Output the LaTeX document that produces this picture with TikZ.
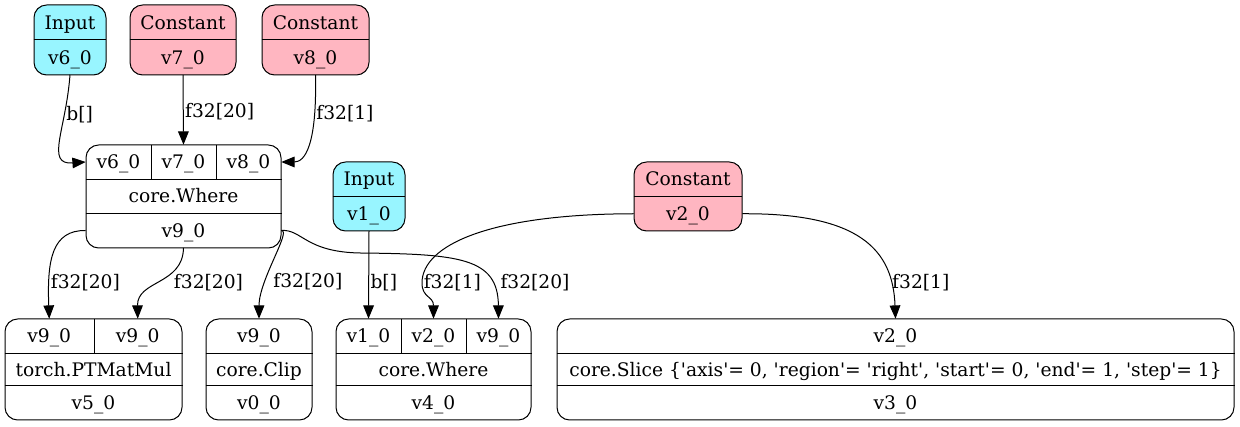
\documentclass[tikz,border=0pt]{standalone}
\usepackage{fontspec}
\setmainfont{DejaVu Serif}
\usetikzlibrary{arrows.meta,positioning}

\tikzset{
  rec/.style={draw, rounded corners=9.5pt, line width=0.75pt, inner sep=0pt},
  inbox/.style={rec, fill={rgb,255:red,152;green,245;blue,255}},
  cstbox/.style={rec, fill={rgb,255:red,255;green,182;blue,193}},
  opbox/.style={rec, fill=white},
  cell/.style={inner sep=0pt, minimum height=25.5pt, text height=10pt, text depth=0pt},
  edge/.style={-{Triangle[length=10pt,width=8pt]}, line width=0.75pt},
  lbl/.style={inner sep=1pt, anchor=west}
}
\newcommand{\sq}{\textquotesingle}

\begin{document}
\begin{tikzpicture}[x=0.75pt,y=0.75pt,yscale=-1,xscale=1,font=\fontsize{14}{17}\selectfont]
    \useasboundingbox (0,0) rectangle (1240,427);

    %Shape: Input v6_0
    \node[inbox, minimum width=54pt, minimum height=52.5pt] (in6) at (70,40) {};
    \node[cell, minimum width=54pt] (in6t) at (70,22.5) {Input};
    \node[cell, minimum width=54pt] (in6v) at (70,57.5) {v6\_0};
    \draw (in6t.south west) -- (in6t.south east);

    %Shape: Constant v7_0
    \node[cstbox, minimum width=79.5pt, minimum height=52.5pt] (c7) at (183,40) {};
    \node[cell, minimum width=79.5pt] (c7t) at (183,22.5) {Constant};
    \node[cell, minimum width=79.5pt] (c7v) at (183,57.5) {v7\_0};
    \draw (c7t.south west) -- (c7t.south east);

    %Shape: Constant v8_0
    \node[cstbox, minimum width=80.25pt, minimum height=52.5pt] (c8) at (315.5,40) {};
    \node[cell, minimum width=80.25pt] (c8t) at (315.5,22.5) {Constant};
    \node[cell, minimum width=80.25pt] (c8v) at (315.5,57.5) {v8\_0};
    \draw (c8t.south west) -- (c8t.south east);

    %Shape: core.Where v9_0
    \node[opbox, minimum width=146.25pt, minimum height=77.25pt] (w9) at (183.5,196.5) {};
    \node[cell, minimum width=48.75pt] (w9a) at (118.5,162) {v6\_0};
    \node[cell, minimum width=48.75pt] (w9b) at (183.5,162) {v7\_0};
    \node[cell, minimum width=48.75pt] (w9c) at (248.5,162) {v8\_0};
    \node[cell, minimum width=146.25pt] (w9n) at (183.5,196) {core.Where};
    \node[cell, minimum width=146.25pt] (w9v) at (183.5,230.5) {v9\_0};
    \draw (w9a.north east) -- (w9a.south east);
    \draw (w9b.north east) -- (w9b.south east);
    \draw (w9.west |- w9a.south) -- (w9.east |- w9a.south);
    \draw (w9.west |- w9v.north) -- (w9.east |- w9v.north);

    %Shape: Input v1_0
    \node[inbox, minimum width=54pt, minimum height=51.75pt] (in1) at (369,196.5) {};
    \node[cell, minimum width=54pt] (in1t) at (369,179.25) {Input};
    \node[cell, minimum width=54pt] (in1v) at (369,213.75) {v1\_0};
    \draw (in1t.south west) -- (in1t.south east);

    %Shape: Constant v2_0
    \node[cstbox, minimum width=81pt, minimum height=51.75pt] (c2) at (688,196.5) {};
    \node[cell, minimum width=81pt] (c2t) at (688,179.25) {Constant};
    \node[cell, minimum width=81pt] (c2v) at (688,213.75) {v2\_0};
    \draw (c2t.south west) -- (c2t.south east);

    %Shape: torch.PTMatMul v5_0
    \node[opbox, minimum width=132.75pt, minimum height=75.75pt] (mm5) at (93.5,369.5) {};
    \node[cell, minimum width=66.375pt] (mm5a) at (49.25,336) {v9\_0};
    \node[cell, minimum width=66.375pt] (mm5b) at (137.75,336) {v9\_0};
    \node[cell, minimum width=132.75pt] (mm5n) at (93.5,369.5) {torch.PTMatMul};
    \node[cell, minimum width=132.75pt] (mm5v) at (93.5,403) {v5\_0};
    \draw (mm5a.north east) -- (mm5a.south east);
    \draw (mm5.west |- mm5a.south) -- (mm5.east |- mm5a.south);
    \draw (mm5.west |- mm5v.north) -- (mm5.east |- mm5v.north);

    %Shape: core.Clip v0_0
    \node[opbox, minimum width=79.5pt, minimum height=75.75pt] (cl0) at (259,369.5) {};
    \node[cell, minimum width=79.5pt] (cl0a) at (259,336) {v9\_0};
    \node[cell, minimum width=79.5pt] (cl0n) at (259,369.5) {core.Clip};
    \node[cell, minimum width=79.5pt] (cl0v) at (259,403) {v0\_0};
    \draw (cl0.west |- cl0a.south) -- (cl0.east |- cl0a.south);
    \draw (cl0.west |- cl0v.north) -- (cl0.east |- cl0v.north);

    %Shape: core.Where v4_0
    \node[opbox, minimum width=146.25pt, minimum height=75.75pt] (w4) at (433.5,369.5) {};
    \node[cell, minimum width=48.75pt] (w4a) at (368.5,336) {v1\_0};
    \node[cell, minimum width=48.75pt] (w4b) at (433.5,336) {v2\_0};
    \node[cell, minimum width=48.75pt] (w4c) at (498.5,336) {v9\_0};
    \node[cell, minimum width=146.25pt] (w4n) at (433.5,369.5) {core.Where};
    \node[cell, minimum width=146.25pt] (w4v) at (433.5,403) {v4\_0};
    \draw (w4a.north east) -- (w4a.south east);
    \draw (w4b.north east) -- (w4b.south east);
    \draw (w4.west |- w4a.south) -- (w4.east |- w4a.south);
    \draw (w4.west |- w4v.north) -- (w4.east |- w4v.north);

    %Shape: core.Slice v3_0
    \node[opbox, minimum width=507.75pt, minimum height=75.75pt] (sl3) at (895.5,369.5) {};
    \node[cell, minimum width=507.75pt] (sl3a) at (895.5,336) {v2\_0};
    \node[cell, minimum width=507.75pt] (sl3n) at (895.5,369.5) {core.Slice \{\sq axis\sq= 0, \sq region\sq= \sq right\sq, \sq start\sq= 0, \sq end\sq= 1, \sq step\sq= 1\}};
    \node[cell, minimum width=507.75pt] (sl3v) at (895.5,403) {v3\_0};
    \draw (sl3.west |- sl3a.south) -- (sl3.east |- sl3a.south);
    \draw (sl3.west |- sl3v.north) -- (sl3.east |- sl3v.north);

    %Curve Lines: into core.Where v9_0
    \draw[edge] (in6v.south) .. controls (66,130) and (45,165) .. (w9a.west) node[lbl, pos=0.27] {b[]};
    \draw[edge] (c7v.south) -- (w9b.north) node[lbl, pos=0.53] {f32[20]};
    \draw[edge] (c8v.south) .. controls (317,145) and (305,162) .. (w9c.east) node[lbl, pos=0.22] {f32[1]};

    %Curve Lines: out of core.Where v9_0
    \draw[edge] (w9v.west) .. controls (52,230) and (47,260) .. (mm5a.north) node[lbl, pos=0.77] {f32[20]};
    \draw[edge] (w9v.south) .. controls (183,285) and (137,280) .. (mm5b.north) node[lbl, pos=0.5, xshift=9pt] {f32[20]};
    \draw[edge] (w9v.east) .. controls (292,230) and (259,280) .. (cl0a.north) node[lbl, pos=0.69, xshift=4pt] {f32[20]};
    \draw[edge] (w9v.east) .. controls (302,229) and (305,252) .. (360,253) .. controls (460,254) and (498,258) .. (w4c.north) node[lbl, pos=0.75, xshift=6pt] {f32[20]};

    %Curve Lines: inputs of core.Where v4_0 and core.Slice v3_0
    \draw[edge] (in1v.south) -- (w4a.north) node[lbl, pos=0.59] {b[]};
    \draw[edge] (c2v.west) .. controls (490,214) and (422,245) .. (422,283) node[lbl] {f32[1]} .. controls (422,298) and (433.5,296) .. (w4b.north);
    \draw[edge] (c2v.east) .. controls (860,213) and (893,250) .. (sl3a.north) node[lbl, pos=0.81] {f32[1]};

\end{tikzpicture}
\end{document}
